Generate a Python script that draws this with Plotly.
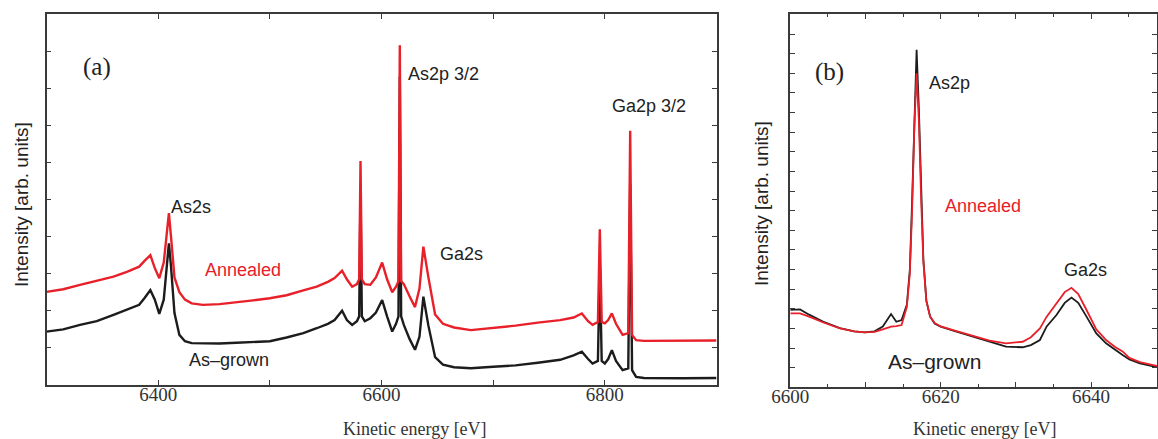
import plotly.graph_objects as go

W, H = 1158, 439

# ---------------- Panel (a): wide scan ----------------
energy_a = [6300, 6315, 6330, 6345, 6360, 6372, 6383, 6388, 6393, 6397, 6401, 6405, 6408, 6409.6, 6411.5,
            6414.6, 6419, 6424, 6430, 6440, 6455, 6470, 6485, 6500, 6515, 6530, 6542, 6552, 6558, 6564.7,
            6569, 6573.7, 6578, 6580, 6581.2, 6582.4, 6585, 6590, 6595, 6600.6, 6605, 6609.6, 6613, 6615.2,
            6616.4, 6617.6, 6620, 6625, 6630, 6634, 6637.5, 6642, 6648, 6655, 6665, 6680, 6700, 6720, 6740,
            6760, 6772, 6779.4, 6785, 6789, 6793.8, 6795.5, 6797.2, 6800, 6803, 6806.3, 6810, 6815.9, 6821,
            6822.7, 6824.4, 6828, 6835, 6850, 6870, 6900]
grown_a = [1.44, 1.50, 1.62, 1.72, 1.89, 2.02, 2.16, 2.35, 2.56, 2.30, 1.92, 2.30, 3.40, 3.82, 3.20,
           1.94, 1.35, 1.18, 1.13, 1.12, 1.12, 1.14, 1.15, 1.18, 1.28, 1.40, 1.53, 1.65, 1.75, 2.00,
           1.75, 1.62, 1.72, 1.85, 5.20, 1.85, 1.72, 1.80, 1.95, 2.29, 1.85, 1.44, 1.65, 1.85,
           8.31, 1.85, 1.62, 1.25, 0.95, 1.30, 2.38, 1.60, 0.75, 0.55, 0.48, 0.45, 0.49, 0.53, 0.60,
           0.68, 0.80, 0.90, 0.70, 0.58, 0.65, 3.22, 0.65, 0.58, 0.70, 0.94, 0.65, 0.40, 0.45,
           5.41, 0.40, 0.22, 0.19, 0.18, 0.18, 0.19]
annealed_a = [2.51, 2.58, 2.70, 2.80, 2.92, 3.05, 3.19, 3.35, 3.50, 3.15, 2.88, 3.30, 4.30, 4.63, 4.00,
              2.90, 2.50, 2.30, 2.20, 2.16, 2.18, 2.22, 2.28, 2.34, 2.42, 2.55, 2.65, 2.78, 2.88, 3.08,
              2.85, 2.65, 2.72, 2.85, 6.04, 2.85, 2.72, 2.70, 2.90, 3.30, 2.85, 2.50, 2.65, 2.80,
              9.16, 2.80, 2.72, 2.40, 2.10, 2.60, 3.73, 2.90, 1.90, 1.65, 1.55, 1.48, 1.53, 1.60, 1.68,
              1.75, 1.82, 1.93, 1.72, 1.62, 1.70, 4.20, 1.70, 1.66, 1.75, 1.93, 1.65, 1.35, 1.40,
              6.85, 1.35, 1.21, 1.19, 1.19, 1.19, 1.20]

# ---------------- Panel (b): As2p / Ga2s region ----------------
energy_b = [6600, 6601.3, 6602.5, 6604.4, 6606.6, 6608.5, 6609.9, 6611.2, 6612.3, 6613.4, 6614.1, 6614.8,
            6615.5, 6615.9, 6616.2, 6616.5, 6616.8, 6617.1, 6617.4, 6617.7, 6618.1, 6618.6, 6619.2, 6620,
            6622, 6624.3, 6626.5, 6628.7, 6630.9, 6632, 6633.2, 6634.1, 6635.4, 6636.5, 6637.4, 6638.3,
            6639.4, 6640.7, 6642, 6643.2, 6644.2, 6645.1, 6646.5, 6648.9]
grown_b = [3.94, 3.97, 3.70, 3.34, 3.02, 2.85, 2.80, 2.85, 3.10, 3.73, 3.34, 3.43,
           4.20, 6.00, 9.50, 14.0, 17.2, 14.2, 9.80, 6.50, 4.40, 3.60, 3.25, 3.09,
           2.85, 2.58, 2.30, 2.07, 2.04, 2.15, 2.41, 3.10, 3.68, 4.30, 4.57, 4.30,
           3.60, 2.75, 2.24, 1.90, 1.65, 1.42, 1.22, 1.02]
annealed_b = [3.77, 3.77, 3.60, 3.30, 3.00, 2.85, 2.80, 2.82, 2.95, 3.09, 3.12, 3.17,
              4.10, 5.80, 9.00, 13.3, 16.0, 13.6, 9.60, 6.40, 4.40, 3.60, 3.28, 3.10,
              2.88, 2.62, 2.38, 2.24, 2.32, 2.55, 3.00, 3.60, 4.28, 4.85, 5.07, 4.75,
              3.94, 2.95, 2.41, 2.05, 1.83, 1.50, 1.28, 1.08]

xticks_a = [6400, 6600, 6800]
xminor_a = [6500, 6700]
xticks_b = [6600, 6610, 6620, 6630, 6640]
xticklabels_b = ["6600", "", "6620", "", "6640"]
xminor_b = [6605, 6615, 6625, 6635, 6645]
yticks_a = [1, 2, 3, 4, 5, 6, 7, 8, 9]
yticks_b = list(range(1, 19))

RED = "#e8202a"
BLACK = "#1c1c1c"
AXC = "#3a3a3a"
TXT = "#222222"


def px(x):
    return x / W


def py(y):
    return 1 - y / H


fig = go.Figure()
fig.add_trace(go.Scatter(x=energy_a, y=grown_a, mode="lines", line=dict(color=BLACK, width=2.4),
                         xaxis="x", yaxis="y", showlegend=False))
fig.add_trace(go.Scatter(x=energy_a, y=annealed_a, mode="lines", line=dict(color=RED, width=2.4),
                         xaxis="x", yaxis="y", showlegend=False))
fig.add_trace(go.Scatter(x=energy_b, y=grown_b, mode="lines", line=dict(color=BLACK, width=1.8),
                         xaxis="x2", yaxis="y2", showlegend=False))
fig.add_trace(go.Scatter(x=energy_b, y=annealed_b, mode="lines", line=dict(color=RED, width=1.8),
                         xaxis="x2", yaxis="y2", showlegend=False))

tickfont = dict(family="Liberation Serif, Times New Roman, serif", size=19, color="#333333")
common = dict(showline=True, linecolor=AXC, linewidth=1.8, mirror="ticks", ticks="inside",
              tickcolor=AXC, tickwidth=1.2, showgrid=False, zeroline=False, automargin=False)

fig.update_layout(
    width=W, height=H,
    margin=dict(l=0, r=0, t=0, b=0, pad=0, autoexpand=False),
    paper_bgcolor="white", plot_bgcolor="white",
    xaxis=dict(domain=[px(46.5), px(716.5)], range=[6300, 6900], anchor="y",
               tickvals=xticks_a, ticklen=5, tickfont=tickfont, ticklabelstandoff=-9,
               minor=dict(tickvals=xminor_a, ticks="inside", ticklen=5, tickcolor=AXC), **common),
    yaxis=dict(domain=[py(385), py(14)], range=[0, 10], anchor="x",
               tickvals=yticks_a, ticklen=5, showticklabels=False, **common),
    xaxis2=dict(domain=[px(790.3), px(1157.2)], range=[6600, 6648.8], anchor="y2",
                tickvals=xticks_b, ticktext=xticklabels_b, ticklen=5, tickfont=tickfont,
                ticklabelstandoff=-9,
                minor=dict(tickvals=xminor_b, ticks="inside", ticklen=3, tickcolor=AXC), **common),
    yaxis2=dict(domain=[py(387.3), py(14)], range=[0, 19.02], anchor="x2",
                tickvals=yticks_b, ticklen=5, showticklabels=False, **common),
)

sans = "Liberation Sans, Arial, Helvetica, sans-serif"
serif = "Liberation Serif, Times New Roman, serif"
annots = [
    ("(a)", 97.5, 67, serif, 25, TXT, 0),
    ("(b)", 829, 72, serif, 25, TXT, 0),
    ("As2s", 191, 207, sans, 18, TXT, 0),
    ("Annealed", 242.5, 270, sans, 18, RED, 0),
    ("As\u2013grown", 228.5, 360, sans, 18, TXT, 0),
    ("As2p 3/2", 444, 74, sans, 18, TXT, 0),
    ("Ga2s", 461, 254, sans, 18, TXT, 0),
    ("Ga2p 3/2", 649, 106, sans, 18, TXT, 0),
    ("As2p", 949, 83, sans, 18, TXT, 0),
    ("Annealed", 983, 206, sans, 18, RED, 0),
    ("Ga2s", 1085, 270, sans, 18, TXT, 0),
    ("As\u2013grown", 934, 361, sans, 21, TXT, 0),
    ("Kinetic energy [eV]", 415, 429, serif, 18, "#333333", 0),
    ("Kinetic energy [eV]", 985, 429, serif, 18, "#333333", 0),
    ("Intensity [arb. units]", 21, 205, sans, 19, TXT, -90),
    ("Intensity [arb. units]", 761, 204, sans, 19, TXT, -90),
]
for text, x, y, fam, size, col, ang in annots:
    fig.add_annotation(text=text, x=px(x), y=py(y), xref="paper", yref="paper",
                       xanchor="center", yanchor="middle", showarrow=False, textangle=ang,
                       font=dict(family=fam, size=size, color=col))

fig.write_html("out.html", config={"displayModeBar": False},
               post_script="document.body.style.margin='0';document.body.style.overflow='hidden';")
